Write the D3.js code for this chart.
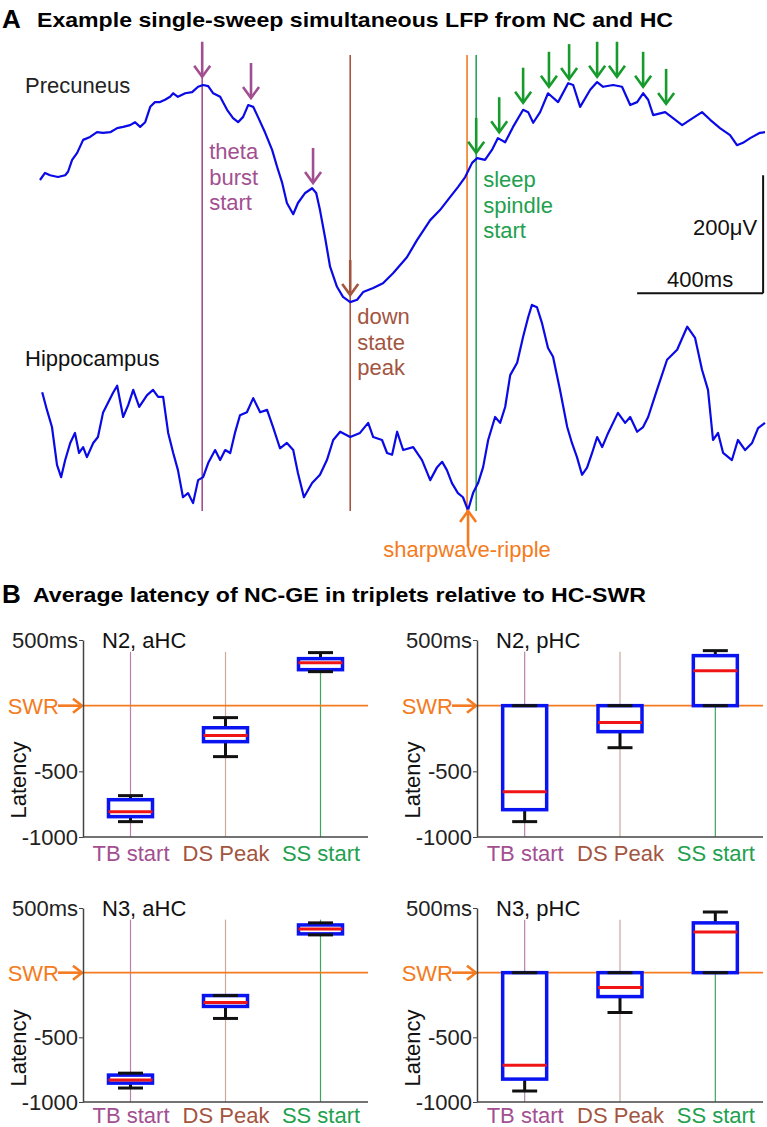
<!DOCTYPE html>
<html>
<head>
<meta charset="utf-8">
<script src="https://cdn.jsdelivr.net/npm/d3@7"></script>
<style>
  body { margin: 0; background: #fff; }
  svg { display: block; font-family: "Liberation Sans", Arial, sans-serif; }
</style>
</head>
<body>
<div id="chart"></div>
<script>
// ---- panel A: single sweep LFP, [time ms rel. to SWR, amplitude uV] ----
const precuneus = [
  [-1356,0],[-1340,12],[-1324,8],[-1299,5],[-1276,8],[-1267,14],[-1254,34],[-1238,46],
  [-1219,68],[-1197,73],[-1175,81],[-1156,80],[-1133,81],[-1111,88],[-1092,90],[-1070,93],
  [-1054,98],[-1038,90],[-1022,98],[-1006,124],[-991,132],[-975,132],[-959,136],[-943,141],
  [-933,147],[-918,141],[-895,147],[-873,149],[-854,158],[-838,161],[-822,159],[-806,147],
  [-784,141],[-762,119],[-743,105],[-727,98],[-711,107],[-695,127],[-679,124],[-664,107],
  [-641,80],[-619,51],[-603,22],[-587,-5],[-572,-39],[-552,-58],[-537,-39],[-514,-22],
  [-492,-14],[-479,-22],[-467,-51],[-451,-97],[-435,-147],[-413,-181],[-394,-198],[-371,-207],
  [-349,-203],[-330,-190],[-298,-183],[-267,-175],[-235,-158],[-191,-131],[-159,-102],[-117,-68],
  [-86,-51],[-54,-29],[-29,-12],[-6,5],[16,29],[32,37],[57,34],[79,51],[98,71],[121,64],
  [146,90],[178,119],[194,115],[210,97],[232,115],[257,147],[289,132],[321,164],[337,161],
  [359,124],[391,153],[413,166],[432,158],[464,161],[492,158],[518,127],[540,132],[559,147],
  [575,136],[591,110],[629,115],[654,105],[683,93],[708,102],[746,115],[772,102],[803,88],
  [835,76],[857,59],[876,63],[899,71],[930,80],[946,81]
];
const hippocampus = [
  [-1349,81],[-1334,51],[-1318,22],[-1302,-42],[-1289,-63],[-1276,-34],[-1260,-5],[-1245,12],
  [-1232,-22],[-1219,-12],[-1207,-29],[-1187,-5],[-1172,5],[-1156,46],[-1140,63],[-1124,80],
  [-1111,92],[-1092,39],[-1076,59],[-1060,85],[-1041,56],[-1016,76],[-997,85],[-981,73],
  [-965,73],[-949,12],[-933,-22],[-918,-51],[-902,-97],[-886,-90],[-870,-107],[-854,-68],
  [-838,-63],[-822,-39],[-800,-17],[-784,-34],[-768,-17],[-752,-22],[-737,12],[-721,42],
  [-699,47],[-679,71],[-657,47],[-635,51],[-616,22],[-594,-14],[-572,-5],[-552,-17],
  [-537,-56],[-518,-97],[-492,-73],[-467,-59],[-445,-34],[-425,0],[-403,14],[-371,5],
  [-340,12],[-314,29],[-298,5],[-270,0],[-254,-22],[-238,-25],[-222,14],[-203,-17],
  [-171,-12],[-143,-34],[-117,-68],[-95,-46],[-79,-37],[-64,-51],[-48,-73],[-29,-90],
  [-13,-97],[3,-119],[19,-90],[35,-73],[51,-46],[67,0],[89,39],[105,29],[121,56],
  [137,110],[159,131],[178,175],[194,208],[206,229],[222,225],[238,198],[257,156],[273,141],
  [295,85],[318,22],[333,-5],[349,-29],[365,-59],[381,-47],[397,-22],[413,5],[429,-12],
  [448,12],[479,46],[502,29],[518,39],[540,14],[559,22],[575,39],[603,85],[635,136],
  [667,153],[699,192],[724,173],[746,119],[765,85],[781,0],[797,12],[813,-22],[841,-34],
  [860,0],[883,-17],[905,-5],[924,20],[946,29]
];
const eventNames = ["theta burst start", "down state peak", "sharpwave-ripple", "sleep spindle start"];
const eventTimes = [-841, -371, 0, 29];
const thetaArrowT = [-841, -686, -489];
const thetaArrowV = [175, 139, -5];
const downArrowT = [-371];
const downArrowV = [-195];
const spindleArrowT = [29, 102, 178, 260, 324, 413, 476, 559, 632];
const spindleArrowV = [46, 81, 131, 158, 171, 175, 175, 158, 129];

// ---- panel B: latency box plots, [low whisker, q1, median, q3, high whisker] ms ----
const categories = ["TB start", "DS Peak", "SS start"];
const latencyTicks = [500, -500, -1000];
const n2aHC = [[-883, -845, -807, -716, -685], [-388, -274, -228, -168, -91], [259, 274, 327, 358, 404]];
const n2pHC = [[-883, -792, -655, 0, 0], [-320, -198, -129, 0, 0], [0, 0, 266, 381, 419]];
const n3aHC = [[-892, -854, -830, -792, -777], [-354, -261, -231, -177, -177], [292, 300, 338, 369, 385]];
const n3pHC = [[-915, -823, -715, 0, 0], [-308, -185, -115, 0, 0], [0, 0, 315, 385, 469]];

const purple = '#a24f91', brown = '#a3553f', orange = '#f47b20', green = '#22a04e', arrowGreen = '#179b2d';
const catText = [purple, brown, green];
const catLine = ['#b882ad', '#caa89c', '#3ea55c'];

const width = 767, height = 1127;
const svg = d3.select('#chart').append('svg')
  .attr('width', width).attr('height', height);
svg.append('rect').attr('width', width).attr('height', height).attr('fill', '#fff');

// ---------- panel A ----------
svg.append('text').attr('x', 2).attr('y', 28).attr('font-size', 26).attr('font-weight', 'bold').text('A');
svg.append('text').attr('x', 37).attr('y', 27).attr('font-size', 21).attr('font-weight', 'bold')
  .attr('textLength', 636).attr('lengthAdjust', 'spacingAndGlyphs')
  .text('Example single-sweep simultaneous LFP from NC and HC');

const x = d3.scaleLinear().domain([-1356, 946]).range([40, 765]);
const yPre = d3.scaleLinear().domain([0, 200]).range([180, 62]);
const yHip = d3.scaleLinear().domain([0, 200]).range([440, 322]);

const a = svg.append('g');

// event lines
const lineTop = [42, 55, 55, 55];
const lineColor = [purple, brown, orange, '#2ca55a'];
eventTimes.forEach((t, i) => {
  a.append('line').attr('x1', x(t)).attr('x2', x(t)).attr('y1', lineTop[i]).attr('y2', 511)
    .attr('stroke', lineColor[i]).attr('stroke-width', 1.6);
});

const line = yS => d3.line().x(d => x(d[0])).y(d => yS(d[1]));
a.append('path').datum(precuneus).attr('d', line(yPre))
  .attr('fill', 'none').attr('stroke', '#0a0ae6').attr('stroke-width', 2.2).attr('stroke-linejoin', 'round');
a.append('path').datum(hippocampus).attr('d', line(yHip))
  .attr('fill', 'none').attr('stroke', '#0a0ae6').attr('stroke-width', 2.2).attr('stroke-linejoin', 'round');

function arrow(px, tip, dir, color) {
  // dir = 1 points down, -1 points up
  const g = a.append('g').attr('stroke', color).attr('stroke-width', 2.6).attr('fill', 'none');
  g.append('line').attr('x1', px).attr('x2', px).attr('y1', tip - dir * 35).attr('y2', tip);
  g.append('polyline').attr('points', `${px - 8},${tip - dir * 11} ${px},${tip} ${px + 8},${tip - dir * 11}`);
}
thetaArrowT.forEach((t, i) => arrow(x(t), yPre(thetaArrowV[i]), 1, purple));
downArrowT.forEach((t, i) => arrow(x(t), yPre(downArrowV[i]), 1, brown));
spindleArrowT.forEach((t, i) => arrow(x(t), yPre(spindleArrowV[i]), 1, arrowGreen));
arrow(x(0) + 1, 511, -1, orange);

// labels
a.append('text').attr('x', 25).attr('y', 93).attr('font-size', 22).attr('fill', '#222').text('Precuneus');
a.append('text').attr('x', 25).attr('y', 366).attr('font-size', 22).attr('fill', '#111').text('Hippocampus');

function stack(words, px, y0, color) {
  words.forEach((w, i) => a.append('text').attr('x', px).attr('y', y0 + i * 25.5)
    .attr('font-size', 22).attr('fill', color).text(w));
}
stack(eventNames[0].split(' '), x(eventTimes[0]) + 7, 159, purple);
stack(eventNames[1].split(' '), x(eventTimes[1]) + 7, 324, brown);
stack(eventNames[3].split(' '), x(eventTimes[3]) + 7, 187, green);
a.append('text').attr('x', x(0)).attr('y', 557).attr('text-anchor', 'middle')
  .attr('font-size', 22).attr('fill', orange).text(eventNames[2]);

// scale bars
const sb = a.append('g').attr('stroke', '#111').attr('stroke-width', 2).attr('fill', 'none');
sb.append('line').attr('x1', x(940)).attr('x2', x(940)).attr('y1', yPre(8)).attr('y2', yPre(-192));
sb.append('line').attr('x1', x(540)).attr('x2', x(940)).attr('y1', yPre(-192)).attr('y2', yPre(-192));
a.append('text').attr('x', x(940) - 6).attr('y', 235).attr('text-anchor', 'end')
  .attr('font-size', 22).attr('fill', '#111').text('200μV');
a.append('text').attr('x', x(740)).attr('y', 287).attr('text-anchor', 'middle')
  .attr('font-size', 22).attr('fill', '#111').text('400ms');

// ---------- panel B ----------
svg.append('text').attr('x', 2).attr('y', 603).attr('font-size', 26).attr('font-weight', 'bold').text('B');
svg.append('text').attr('x', 33).attr('y', 602).attr('font-size', 21).attr('font-weight', 'bold')
  .attr('textLength', 613).attr('lengthAdjust', 'spacingAndGlyphs')
  .text('Average latency of NC-GE in triplets relative to HC-SWR');

const panels = [
  { name: 'N2, aHC', data: n2aHC, left: 83, right: 368, top: 640, bottom: 837, pad: 8 },
  { name: 'N2, pHC', data: n2pHC, left: 477, right: 763, top: 640, bottom: 837, pad: 8 },
  { name: 'N3, aHC', data: n3aHC, left: 83, right: 368, top: 908, bottom: 1102, pad: 5 },
  { name: 'N3, pHC', data: n3pHC, left: 477, right: 763, top: 908, bottom: 1102, pad: 5 }
];

panels.forEach(p => {
  const g = svg.append('g');
  const xs = d3.scalePoint().domain(categories).range([p.left, p.right]).padding(0.5);
  const ys = d3.scaleLinear().domain([-1000, 500]).range([p.bottom, p.top]);
  const bw = 44, cw = 25;

  // category guide lines
  categories.forEach((c, i) => {
    g.append('line').attr('x1', xs(c)).attr('x2', xs(c)).attr('y1', ys(410)).attr('y2', ys(-1000))
      .attr('stroke', catLine[i]).attr('stroke-width', 1.2);
  });
  // SWR reference
  g.append('line').attr('x1', p.left).attr('x2', p.right).attr('y1', ys(0)).attr('y2', ys(0))
    .attr('stroke', orange).attr('stroke-width', 1.6);
  g.append('text').attr('x', p.left - 24).attr('y', ys(0)).attr('dy', '0.36em').attr('text-anchor', 'end')
    .attr('font-size', 22).attr('fill', orange).text('SWR');
  g.append('line').attr('x1', p.left - 25).attr('x2', p.left - 1).attr('y1', ys(0)).attr('y2', ys(0))
    .attr('stroke', orange).attr('stroke-width', 2.6);
  g.append('polyline').attr('points', `${p.left - 10},${ys(0) - 7} ${p.left - 1},${ys(0)} ${p.left - 10},${ys(0) + 7}`)
    .attr('fill', 'none').attr('stroke', orange).attr('stroke-width', 2.6);

  // boxes
  p.data.forEach((d, i) => {
    const cx = xs(categories[i]);
    const [lo, q1, med, q3, hi] = d;
    g.append('line').attr('x1', cx).attr('x2', cx).attr('y1', ys(lo)).attr('y2', ys(q1))
      .attr('stroke', '#111').attr('stroke-width', 3);
    g.append('line').attr('x1', cx).attr('x2', cx).attr('y1', ys(hi)).attr('y2', ys(q3))
      .attr('stroke', '#111').attr('stroke-width', 3);
    g.append('rect').attr('x', cx - bw / 2).attr('y', ys(q3)).attr('width', bw)
      .attr('height', Math.max(ys(q1) - ys(q3), 1))
      .attr('fill', '#fff').attr('stroke', '#0a14f0').attr('stroke-width', 3.5);
    g.append('line').attr('x1', cx - bw / 2).attr('x2', cx + bw / 2).attr('y1', ys(med)).attr('y2', ys(med))
      .attr('stroke', '#f01414').attr('stroke-width', 3);
    [lo, hi].forEach(v => {
      g.append('line').attr('x1', cx - cw / 2).attr('x2', cx + cw / 2).attr('y1', ys(v)).attr('y2', ys(v))
        .attr('stroke', '#111').attr('stroke-width', 3);
    });
  });

  // axes
  const yAxis = g.append('g').attr('transform', `translate(${p.left},0)`)
    .call(d3.axisLeft(ys).tickValues(latencyTicks).tickFormat(d => d === 500 ? '500ms' : d)
      .tickSize(4).tickSizeOuter(0).tickPadding(1));
  yAxis.select('.domain').attr('stroke', '#444').attr('stroke-width', 1.5);
  yAxis.selectAll('.tick line').attr('stroke', '#444');
  yAxis.selectAll('text').attr('font-size', 22).attr('fill', '#222').attr('font-family', null);

  const xAxis = g.append('g').attr('transform', `translate(0,${p.bottom})`)
    .call(d3.axisBottom(xs).tickSize(0).tickSizeOuter(0).tickPadding(p.pad));
  xAxis.select('.domain').attr('stroke', '#444').attr('stroke-width', 1.5)
    .attr('d', `M${p.left},0H${p.right}`);
  xAxis.selectAll('text').attr('font-size', 22).attr('font-family', null)
    .attr('fill', (d, i) => catText[i]);

  g.append('text').attr('transform', `translate(${p.left - 57},${p.top + 140}) rotate(-90)`)
    .attr('text-anchor', 'middle').attr('font-size', 22).attr('fill', '#111').text('Latency');
  g.append('text').attr('x', p.left + 19).attr('y', p.top + 8)
    .attr('font-size', 22).attr('fill', '#111').text(p.name);
});
</script>
</body>
</html>
